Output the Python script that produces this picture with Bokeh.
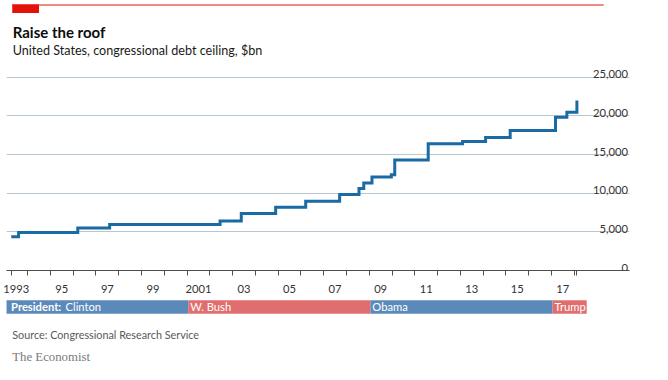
from bokeh.plotting import figure
from bokeh.layouts import column
from bokeh.models import Range1d, FixedTicker
from bokeh.core.properties import value
from bokeh.embed import file_html
from bokeh.resources import INLINE

# ---------------- data ----------------
# debt ceiling changes: decimal year of change, new ceiling ($bn)
dates = [1993.28, 1993.60, 1996.20, 1997.60, 2002.45, 2003.38, 2004.89, 2006.21,
         2007.70, 2008.55, 2008.76, 2009.12, 2009.97, 2010.12, 2011.59, 2013.10,
         2014.11, 2015.19, 2017.18, 2017.68, 2018.12]
ceiling = [4370, 4900, 5500, 5950, 6400, 7384, 8184, 8965,
           9815, 10615, 11315, 12104, 12394, 14294, 16394, 16699,
           17212, 18113, 19809, 20456, 21988]

y_ticks = [0, 5000, 10000, 15000, 20000, 25000]
y_tick_labels = ["0", "5,000", "10,000", "15,000", "20,000", "25,000"]

x_label_years = [1993, 1995, 1997, 1999, 2001, 2003, 2005, 2007, 2009, 2011, 2013, 2015, 2017]
x_tick_labels = ["1993", "95", "97", "99", "2001", "03", "05", "07", "09", "11", "13", "15", "17"]
year_boundaries = list(range(1994, 2019))

presidents = ["Clinton", "W. Bush", "Obama", "Trump"]
term_start = [1993.05, 2001.05, 2009.05, 2017.05]
term_end = [2001.05, 2009.05, 2017.05, 2018.55]
party_colors = ["#5b8aba", "#e06e6e", "#5b8aba", "#e06e6e"]

# ---------------- style ----------------
FONT = "Lato"
RED = "#e3120b"
LINE_BLUE = "#1a6aa3"
GRID = "#b7c7d3"
W = 652
LEFT, RIGHT = 6, 23          # frame borders of the chart and the president bar
X0, X1 = 1993.07, 2020.43


def bare(fig):
    fig.outline_line_color = None
    fig.background_fill_color = "white"
    fig.border_fill_color = "white"
    fig.xgrid.visible = False
    fig.ygrid.visible = False
    return fig


def blank(height, xr, yr, left=0, right=0):
    fig = figure(width=W, height=height, x_range=xr, y_range=yr,
                 output_backend="svg", toolbar_location=None,
                 x_axis_location=None, y_axis_location=None,
                 min_border_left=left, min_border_right=right, min_border_top=0, min_border_bottom=0)
    return bare(fig)


# ---------------- header ----------------
HH = 59
h = blank(HH, Range1d(0, W), Range1d(HH, 0))
h.segment(x0=[6], y0=[4.5], x1=[625], y1=[4.5], line_color=RED, line_width=1)
h.quad(left=[6], right=[34], top=[4], bottom=[12.5], fill_color=RED, line_color=None)
h.text(x=[6.5], y=[31.5], text=["Raise the roof"], text_font=value(FONT), text_font_style="bold",
       text_font_size="15px", text_color="#0c0c0c", text_baseline="alphabetic")
h.text(x=[6.5], y=[50], text=["United States, congressional debt ceiling, $bn"], text_font=value(FONT),
       text_font_size="12.6px", text_color="#1a1a1a", text_baseline="alphabetic")

# ---------------- main chart ----------------
p = figure(width=W, height=236, x_range=Range1d(X0, X1), y_range=Range1d(0, 26776),
           output_backend="svg", toolbar_location=None, y_axis_location=None,
           min_border_left=LEFT, min_border_right=RIGHT, min_border_top=4, min_border_bottom=24)
bare(p)
p.ygrid.visible = True
p.ygrid.ticker = FixedTicker(ticks=y_ticks[1:])
p.ygrid.grid_line_color = GRID
p.ygrid.grid_line_width = 1

mid_years = [y + 0.5 for y in x_label_years]
ax = p.xaxis[0]
ax.ticker = FixedTicker(ticks=mid_years, minor_ticks=year_boundaries + [dates[0], dates[-1]])
ax.major_label_overrides = {m: t for m, t in zip(mid_years, x_tick_labels)}
ax.major_tick_out = 0
ax.major_tick_in = 0
ax.minor_tick_out = 5
ax.minor_tick_in = 0
ax.axis_line_color = "#4d4d4d"
ax.minor_tick_line_color = "#4d4d4d"
ax.major_label_standoff = 9
ax.major_label_text_font = FONT
ax.major_label_text_font_size = "11.2px"
ax.major_label_text_color = "#333333"

p.step(dates, ceiling, mode="after", line_width=3, line_color=LINE_BLUE, line_join="miter")

p.text(x=[X1] * len(y_ticks), y=y_ticks, text=y_tick_labels, text_align="right",
       text_baseline="alphabetic", x_offset=-1.5, y_offset=-3, text_font=value(FONT),
       text_font_size="11.2px", text_color="#333333")

# ---------------- president bar ----------------
b = blank(22, p.x_range, Range1d(-0.284, 1.358), left=LEFT, right=RIGHT)
b.quad(left=term_start, right=term_end, bottom=0, top=1, fill_color=party_colors, line_color=None)
b.text(x=term_start[1:], y=[0.5] * 3, text=presidents[1:], x_offset=2, text_baseline="middle",
       text_font=value(FONT), text_font_size="11.2px", text_color="white")
b.text(x=[term_start[0]], y=[0.5], text=["President:"], x_offset=5, text_baseline="middle",
       text_font=value(FONT), text_font_style="bold", text_font_size="11.2px", text_color="white")
b.text(x=[term_start[0]], y=[0.5], text=[presidents[0]], x_offset=59.5, text_baseline="middle",
       text_font=value(FONT), text_font_size="11.2px", text_color="white")

# ---------------- footer ----------------
FH = 47
f = blank(FH, Range1d(0, W), Range1d(FH, 0))
f.text(x=[6], y=[16.5], text=["Source: Congressional Research Service"], text_font=value(FONT),
       text_font_size="10.8px", text_color="#595959", text_baseline="alphabetic")
f.text(x=[6], y=[39.5], text=["The Economist"], text_font=value("Liberation Serif"),
       text_font_size="12.8px", text_color="#7a7a7a", text_baseline="alphabetic")

layout = column(h, p, b, f, spacing=0)
open("out.html", "w").write(file_html(layout, INLINE))
